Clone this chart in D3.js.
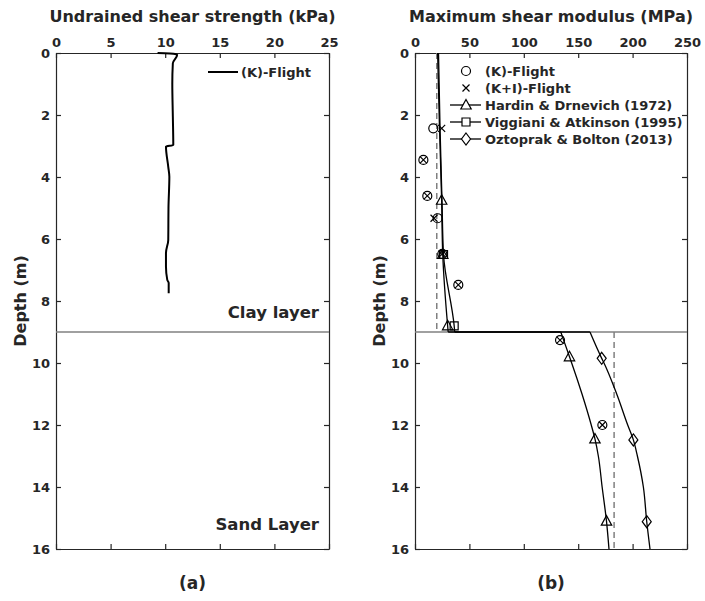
<script src="https://cdn.jsdelivr.net/npm/d3@7"></script>
<style>
  body { margin: 0; background: #fff; }
  text { font-family: "DejaVu Sans", Verdana, sans-serif; font-weight: bold; fill: #262626; }
</style>
<div class="vis"></div>
<script>
  let width = 705
  let height = 601

  // panel (a): undrained shear strength profile
  let suDepth = [0, 0.03, 0.06, 0.33, 1.0, 2.05, 2.97, 3.02, 3.67, 3.99, 5.0, 6.03, 6.45, 6.89, 7.32, 7.42, 7.75]
  let suValue = [9.3, 10.9, 11.1, 10.7, 10.65, 10.7, 10.74, 10.07, 10.28, 10.38, 10.3, 10.28, 10.07, 10.07, 10.19, 10.32, 10.32]

  // panel (b): measured Gmax
  let flightDepth = [2.43, 3.45, 4.61, 5.33, 6.48, 7.48, 9.26, 12.0]
  let kFlight = [16.8, 7.7, 11.3, 20.8, 25.1, 39.8, 133.3, 172.2]
  let kiFlight = [24.5, 7.7, 11.3, 17.5, 25.1, 39.8, 133.3, 172.2]

  // empirical curves
  let hardinDepth = [0, 2.4, 4.75, 6.5, 8.8, 9, 9, 9.8, 10, 11, 12, 12.45, 13, 14, 15.1, 16]
  let hardinValue = [20.8, 22.5, 24.5, 25.5, 30, 30.5, 134, 142, 144, 153.5, 162, 165.4, 168.5, 172, 176, 178.3]
  let viggianiDepth = [0, 2.4, 4.75, 6.5, 8.8, 9]
  let viggianiValue = [21.6, 23, 24.8, 26.2, 36, 36.5]
  let oztoprakDepth = [9, 9, 9.85, 10, 11, 12, 12.48, 13, 14, 15.12, 16]
  let oztoprakValue = [36.5, 160.8, 171.6, 173.7, 185.4, 195.5, 200.7, 204.4, 209.9, 213, 216]

  // marker positions along the curves
  let hardinMarkDepth = [4.75, 6.5, 8.8, 9.8, 12.45, 15.1]
  let hardinMarkValue = [24.5, 25.5, 30, 142, 165.4, 176]
  let viggianiMarkDepth = [6.5, 8.8]
  let viggianiMarkValue = [26.2, 36]
  let oztoprakMarkDepth = [9.85, 12.48, 15.12]
  let oztoprakMarkValue = [171.6, 200.7, 213]

  // dashed reference lines
  let dashDepth = [[0, 9], [9, 16]]
  let dashValue = [20, 183]

  let layerDepth = 9
  let depthTicks = [0, 2, 4, 6, 8, 10, 12, 14, 16]
  let suTicks = [0, 5, 10, 15, 20, 25]
  let gTicks = [0, 50, 100, 150, 200, 250]

  let svg = d3.select('.vis').append('svg')
    .attr('width', width).attr('height', height)
    .attr('viewBox', [0, 0, width, height])

  let yTop = 53, yBottom = 549
  let y = d3.scaleLinear().domain([0, 16]).range([yTop, yBottom])
  let xa = d3.scaleLinear().domain([0, 25]).range([56, 329])
  let xb = d3.scaleLinear().domain([0, 250]).range([415, 687])

  let axisColor = '#262626'

  function frame(x, ticks, title, tag) {
    let [x0, x1] = x.range()
    let g = svg.append('g')
    g.append('g').attr('transform', `translate(0,${yTop})`)
      .call(d3.axisTop(x).tickValues(ticks).tickSizeInner(-5).tickSizeOuter(0).tickPadding(6))
    g.append('g').attr('transform', `translate(0,${yBottom})`)
      .call(d3.axisBottom(x).tickValues(ticks).tickSizeInner(-5).tickSizeOuter(0).tickFormat(''))
    g.append('g').attr('transform', `translate(${x0},0)`)
      .call(d3.axisLeft(y).tickValues(depthTicks).tickSizeInner(-5).tickSizeOuter(0).tickPadding(6))
    g.append('g').attr('transform', `translate(${x1},0)`)
      .call(d3.axisRight(y).tickValues(depthTicks).tickSizeInner(-5).tickSizeOuter(0).tickFormat(''))
    g.selectAll('.domain, .tick line').attr('stroke', axisColor).attr('stroke-width', 1.2)
    g.selectAll('.tick text').style('font-size', '13px').attr('fill', axisColor)

    g.append('text')
      .attr('x', (x0 + x1) / 2).attr('y', 22)
      .attr('text-anchor', 'middle')
      .style('font-size', '16px')
      .text(title)
    g.append('text')
      .attr('transform', `translate(${x0 - 30},${(yTop + yBottom) / 2})rotate(-90)`)
      .attr('text-anchor', 'middle')
      .style('font-size', '16px')
      .text('Depth (m)')
    g.append('text')
      .attr('x', (x0 + x1) / 2).attr('y', 589)
      .attr('text-anchor', 'middle')
      .style('font-size', '17px')
      .text(tag)

    // clay / sand boundary
    svg.append('line')
      .attr('x1', x0).attr('x2', x1)
      .attr('y1', y(layerDepth)).attr('y2', y(layerDepth))
      .attr('stroke', '#808080').attr('stroke-width', 1.5)
  }

  frame(xa, suTicks, 'Undrained shear strength (kPa)', '(a)')
  frame(xb, gTicks, 'Maximum shear modulus (MPa)', '(b)')

  // panel (a)
  let lineA = d3.line().x((d, i) => xa(suValue[i])).y(d => y(d)).curve(d3.curveMonotoneY)
  svg.append('path')
    .attr('d', lineA(suDepth))
    .attr('fill', 'none').attr('stroke', '#000').attr('stroke-width', 2)

  svg.append('line').attr('x1', 208).attr('x2', 238).attr('y1', 72).attr('y2', 72)
    .attr('stroke', '#000').attr('stroke-width', 2)
  svg.append('text').attr('x', 241).attr('y', 77).style('font-size', '13px').text('(K)-Flight')

  svg.append('text').attr('x', 319).attr('y', 318).attr('text-anchor', 'end')
    .style('font-size', '16.5px').text('Clay layer')
  svg.append('text').attr('x', 319).attr('y', 530).attr('text-anchor', 'end')
    .style('font-size', '16.5px').text('Sand Layer')

  // panel (b)
  dashDepth.forEach((dd, i) => {
    svg.append('line')
      .attr('x1', xb(dashValue[i])).attr('x2', xb(dashValue[i]))
      .attr('y1', y(dd[0])).attr('y2', y(dd[1]))
      .attr('stroke', '#808080').attr('stroke-width', 1.5).attr('stroke-dasharray', '6,4')
  })

  function curve(depths, values) {
    let pts = depths.map((d, i) => [xb(values[i]), y(d)])
    // break into pieces so the horizontal jump at the layer stays straight
    let line = d3.line().curve(d3.curveMonotoneY)
    let pieces = [], cur = [pts[0]]
    for (let i = 1; i < pts.length; i++) {
      if (pts[i][1] === pts[i - 1][1]) { pieces.push(cur); pieces.push([pts[i - 1], pts[i]]); cur = [pts[i]] }
      else cur.push(pts[i])
    }
    pieces.push(cur)
    pieces.filter(p => p.length > 1).forEach(p => {
      svg.append('path').attr('d', p[0][1] === p[1][1] && p.length === 2 ? d3.line()(p) : line(p))
        .attr('fill', 'none').attr('stroke', '#000').attr('stroke-width', 1.3)
    })
  }
  curve(hardinDepth, hardinValue)
  curve(viggianiDepth, viggianiValue)
  curve(oztoprakDepth, oztoprakValue)

  let shapes = {
    circle: 'M4.5,0A4.5,4.5,0,1,1,-4.5,0A4.5,4.5,0,1,1,4.5,0Z',
    cross: 'M-3.5,-3.5L3.5,3.5M-3.5,3.5L3.5,-3.5',
    triangle: 'M0,-5.5L5.2,4L-5.2,4Z',
    square: 'M-4,-4H4V4H-4Z',
    diamond: 'M0,-6L4.5,0L0,6L-4.5,0Z'
  }
  function marks(depths, values, shape) {
    svg.append('g').selectAll('path')
      .data(depths)
      .join('path')
      .attr('transform', (d, i) => `translate(${xb(values[i])},${y(d)})`)
      .attr('d', shapes[shape])
      .attr('fill', 'none').attr('stroke', '#000').attr('stroke-width', 1.2)
  }
  marks(hardinMarkDepth, hardinMarkValue, 'triangle')
  marks(viggianiMarkDepth, viggianiMarkValue, 'square')
  marks(oztoprakMarkDepth, oztoprakMarkValue, 'diamond')
  marks(flightDepth, kFlight, 'circle')
  marks(flightDepth, kiFlight, 'cross')

  // legend (b)
  let legendNames = ['(K)-Flight', '(K+I)-Flight', 'Hardin & Drnevich (1972)', 'Viggiani & Atkinson (1995)', 'Oztoprak & Bolton (2013)']
  let legendShapes = ['circle', 'cross', 'triangle', 'square', 'diamond']
  let legend = svg.append('g').selectAll('g')
    .data(legendNames)
    .join('g')
    .attr('transform', (d, i) => `translate(466,${71 + i * 17})`)
  legend.filter((d, i) => i > 1).append('line')
    .attr('x1', -16).attr('x2', 15).attr('stroke', '#000').attr('stroke-width', 1.3)
  legend.append('path')
    .attr('d', (d, i) => shapes[legendShapes[i]])
    .attr('fill', (d, i) => i > 1 ? '#fff' : 'none')
    .attr('stroke', '#000').attr('stroke-width', 1.2)
  legend.append('text')
    .attr('x', 19).attr('y', 5)
    .style('font-size', '13px')
    .text(d => d)
</script>
